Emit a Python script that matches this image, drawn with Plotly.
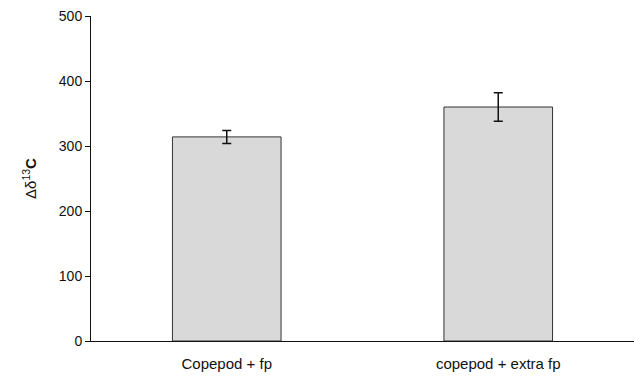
import plotly.graph_objects as go

categories = ["Copepod + fp", "copepod + extra fp"]
values = [314, 360]
errors = [10, 22]
y_ticks = [0, 100, 200, 300, 400, 500]

fig = go.Figure()
fig.add_trace(go.Bar(
    x=categories, y=values, width=0.4,
    marker=dict(color="#d9d9d9", line=dict(color="#333333", width=1)),
    error_y=dict(type="data", array=errors, visible=True, color="#111111", thickness=1.5, width=4.5),
))
fig.update_layout(
    width=635, height=379,
    margin=dict(l=91, r=1, t=16, b=38),
    plot_bgcolor="white", paper_bgcolor="white",
    font=dict(family="Liberation Sans, Arial, sans-serif", size=14, color="#111111"),
    showlegend=False,
)
fig.update_xaxes(
    range=[-0.5, 1.5], showline=True, linecolor="#111111", linewidth=1,
    ticks="outside", ticklen=9, tickcolor="rgba(0,0,0,0)", showgrid=False,
    tickfont=dict(size=15), automargin=False,
)
fig.update_yaxes(
    range=[0, 500], tickvals=y_ticks, showline=True, linecolor="#111111", linewidth=1,
    ticks="outside", ticklen=5, tickcolor="#111111", showgrid=False, zeroline=False,
    tickfont=dict(size=14), automargin=False,
    title=dict(text="Δδ<sup>13</sup><b>C</b>", standoff=18, font=dict(size=15)),
)
fig.write_html(
    "out.html",
    config={"displayModeBar": False},
    post_script="document.body.style.margin='0';document.body.style.overflow='hidden';",
)
